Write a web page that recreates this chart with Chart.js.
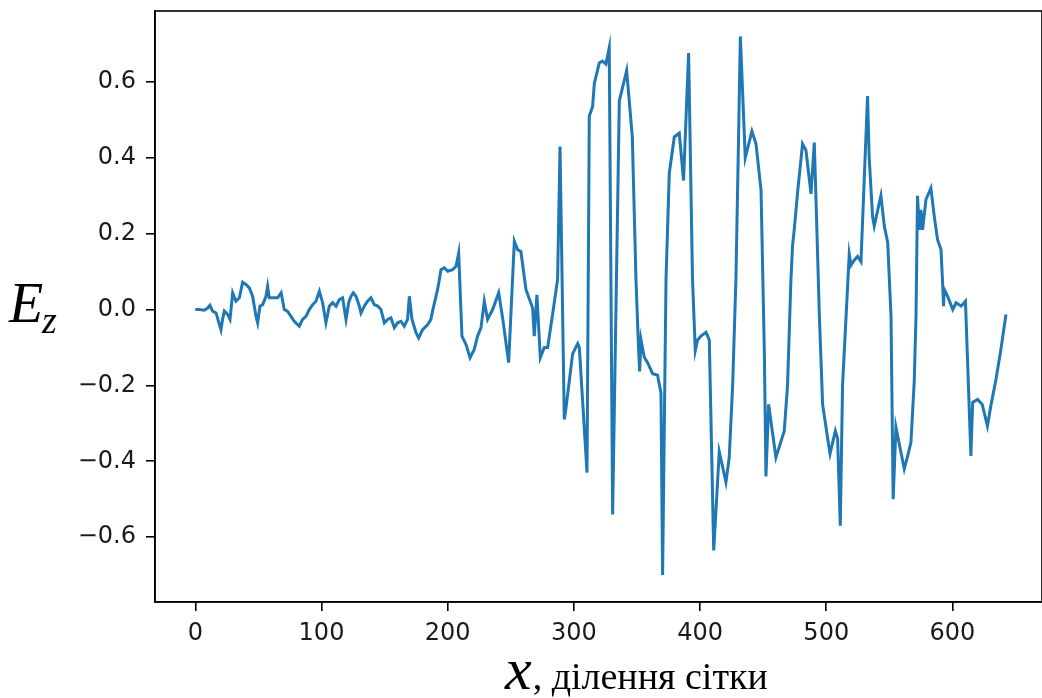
<!DOCTYPE html>
<html>
<head>
<meta charset="utf-8">
<title>Ez</title>
<script src="https://cdn.jsdelivr.net/npm/chart.js@4.4.1/dist/chart.umd.min.js"></script>
<style>
  html, body { margin: 0; padding: 0; background: #fff; }
  #chart { display: block; }
</style>
</head>
<body>
<canvas id="chart" width="1042" height="698"></canvas>
<script>
// grid positions (x) and field values (Ez)
const xVals = [
  0, 3.2, 7.1, 9.8, 11.6, 13.7, 16.4, 20.3, 21.6, 23, 25.6, 27.5, 29.6, 32.2, 34.9, 37.5, 40.1, 42.8, 45.4, 48.1,
  49.4, 51.2, 53.4, 56, 57.3, 58.6, 61.3, 65.2, 68, 70.5, 73, 75.8, 78.4, 82.4, 85, 87.7, 90.3, 93, 95.6, 98.3,
  100.9, 103.5, 106.2, 108.8, 111.5, 114.1, 116.7, 119.4, 121.5, 123.4, 125.2, 127.3, 130, 131.3, 133.9, 136.5, 139.2, 141.8, 144.5, 147.1,
  149.8, 152.4, 155, 157.7, 160.3, 163, 165.6, 168.2, 169.6, 171.7, 174.9, 177, 180.1, 184, 186.7, 188, 192, 194.7, 197.3, 200,
  203.9, 206.6, 208.7, 211.3, 214.5, 217.7, 221, 223.7, 226.4, 229, 231.6, 235.6, 240.4, 243.5, 248.3, 252.8, 255.4, 258, 262, 267.3,
  268.6, 270.7, 273.4, 276.5, 279.2, 283.1, 287.1, 289, 292.4, 293.7, 299, 303, 304.3, 310.4, 312.2, 314.8, 316.2, 320.1, 322.7, 325.4,
  328, 330.7, 336, 341.8, 346.3, 349.2, 351.3, 352.1, 353.2, 355.8, 358.4, 362.4, 366.3, 369, 370.3, 373, 375.6, 379.6, 383.5, 386.9,
  390.9, 394, 396.2, 398, 400.7, 404.7, 407.3, 410.8, 415.2, 420.5, 423.1, 425.8, 428.4, 430.5, 431.9, 435.8, 441.1, 444.3, 448.3, 450.9,
  452.2, 454.3, 460.1, 466.7, 469.3, 472, 473.3, 474.6, 477.3, 481.2, 483.9, 487.9, 490.5, 491.8, 494.5, 497.1, 501.1, 503, 507.2, 509,
  511.1, 512.9, 518.2, 519.6, 522.2, 524.8, 527.5, 532.7, 534, 536.7, 538, 543.3, 546, 548.7, 551.3, 553, 555.2, 559.2, 561.8, 564.5,
  567.1, 569.7, 571.1, 572.3, 573.7, 575, 576.3, 579, 582.9, 585.6, 588.2, 590.9, 592.2, 592.9, 593.5, 596.2, 600.2, 602.9, 606.9, 610.3,
  614.6, 616, 619.9, 623.6, 627.7, 630.4, 634.5, 638.4, 642.4
];
const ezVals = [
  0, 0, -0.002, 0.004, 0.011, -0.004, -0.009, -0.053, -0.026, -0.004, -0.013, -0.026, 0.044, 0.022, 0.031, 0.072, 0.066, 0.057, 0.035, -0.018,
  -0.035, 0.009, 0.013, 0.035, 0.061, 0.031, 0.031, 0.031, 0.044, 0, -0.004, -0.018, -0.031, -0.044, -0.026, -0.018, 0, 0.013, 0.022, 0.048,
  0.018, -0.035, 0.009, 0.018, 0.009, 0.026, 0.031, -0.026, 0.018, 0.035, 0.044, 0.035, 0.009, -0.009, 0.009, 0.022, 0.031, 0.013, 0.009, 0,
  -0.035, -0.026, -0.022, -0.048, -0.035, -0.031, -0.044, -0.026, 0.035, -0.026, -0.061, -0.075, -0.053, -0.04, -0.026, -0.004, 0.053, 0.105, 0.11, 0.101,
  0.105, 0.114, 0.149, -0.07, -0.092, -0.127, -0.105, -0.07, -0.048, 0.022, -0.026, 0, 0.044, -0.022, -0.14, 0.18, 0.158, 0.153, 0.053, 0.004,
  -0.07, 0.039, -0.127, -0.1, -0.1, -0.013, 0.08, 0.43, -0.29, -0.26, -0.117, -0.09, -0.1, -0.43, 0.51, 0.535, 0.596, 0.65, 0.655, 0.647,
  0.69, -0.54, 0.55, 0.63, 0.455, 0.079, -0.108, -0.163, -0.08, -0.126, -0.14, -0.169, -0.173, -0.22, -0.7, 0.08, 0.36, 0.455, 0.465, 0.34,
  0.676, 0.079, -0.108, -0.08, -0.07, -0.06, -0.08, -0.635, -0.375, -0.455, -0.39, -0.2, 0.08, 0.455, 0.72, 0.4, 0.47, 0.437, 0.315, -0.108,
  -0.44, -0.25, -0.39, -0.32, -0.2, 0.08, 0.17, 0.21, 0.31, 0.437, 0.42, 0.305, 0.44, 0.296, -0.013, -0.25, -0.34, -0.38, -0.32, -0.34,
  -0.57, -0.2, 0.146, 0.117, 0.13, 0.14, 0.126, 0.563, 0.4, 0.245, 0.22, 0.3, 0.22, 0.176, -0.018, -0.5, -0.31, -0.377, -0.42, -0.386,
  -0.35, -0.19, -0.018, 0.3, 0.21, 0.263, 0.21, 0.29, 0.32, 0.245, 0.184, 0.158, 0.07, 0.009, 0.053, 0.035, 0, 0.018, 0.009, 0.022,
  -0.386, -0.245, -0.237, -0.25, -0.307, -0.254, -0.184, -0.105, -0.013
];

const xTicks = [0, 100, 200, 300, 400, 500, 600];
const yTicks = [-0.6, -0.4, -0.2, 0.0, 0.2, 0.4, 0.6];

const tickFont = { family: '"DejaVu Sans"', size: 24 };

// frame on all four sides + the two axis captions (drawn as text)
const frameAndLabels = {
  id: 'frameAndLabels',
  afterDraw(chart) {
    const ctx = chart.ctx;
    const a = chart.chartArea;
    ctx.save();
    ctx.strokeStyle = '#000';
    ctx.lineWidth = 1.6;
    ctx.strokeRect(a.left, a.top, a.right - a.left, a.bottom - a.top);

    ctx.fillStyle = '#000';
    ctx.textBaseline = 'alphabetic';
    ctx.textAlign = 'left';
    ctx.font = 'italic 56px "Liberation Serif"';
    ctx.fillText('E', 9, 322);
    ctx.font = 'italic 38px "Liberation Serif"';
    ctx.fillText('z', 42, 333);

    ctx.font = 'italic 60px "Liberation Serif"';
    ctx.fillText('x', 505, 689);
    const wx = ctx.measureText('x').width;
    ctx.font = '38px "Liberation Serif"';
    ctx.fillText(', ділення сітки', 505 + wx + 1, 689);
    ctx.restore();
  }
};

const ctx = document.getElementById('chart').getContext('2d');
const myChart = new Chart(ctx, {
  type: 'line',
  data: {
    datasets: [{
      data: xVals.map((x, i) => ({ x: x, y: ezVals[i] })),
      borderColor: '#1f77b4',
      borderWidth: 3,
      pointRadius: 0,
      tension: 0,
      fill: false
    }]
  },
  options: {
    responsive: false,
    animation: false,
    devicePixelRatio: 1,
    layout: { padding: { top: 11, left: 0, right: 0, bottom: 0 } },
    plugins: {
      legend: { display: false },
      tooltip: { enabled: false }
    },
    scales: {
      x: {
        type: 'linear',
        min: -31.95,
        max: 670.95,
        afterBuildTicks: (scale) => { scale.ticks = xTicks.map(v => ({ value: v })); },
        afterFit: (scale) => { scale.height = 96; scale.paddingLeft = 0; scale.paddingRight = 0; },
        grid: { drawOnChartArea: false, drawTicks: true, tickLength: 9, color: '#000', lineWidth: 1.6 },
        border: { display: true, color: '#000', width: 1.6 },
        ticks: { font: tickFont, color: '#1a1a1a', padding: 8, maxRotation: 0, callback: (v) => String(v) }
      },
      y: {
        min: -0.771,
        max: 0.787,
        afterBuildTicks: (scale) => { scale.ticks = yTicks.map(v => ({ value: v })); },
        afterFit: (scale) => { scale.width = 155; scale.paddingTop = 0; scale.paddingBottom = 0; },
        grid: { drawOnChartArea: false, drawTicks: true, tickLength: 9, color: '#000', lineWidth: 1.6 },
        border: { display: true, color: '#000', width: 1.6 },
        ticks: {
          font: tickFont, color: '#1a1a1a', padding: 10,
          callback: (v) => (v < 0 ? '\u2212' : '') + Math.abs(v).toFixed(1)
        }
      }
    }
  },
  plugins: [frameAndLabels]
});
</script>
</body>
</html>
